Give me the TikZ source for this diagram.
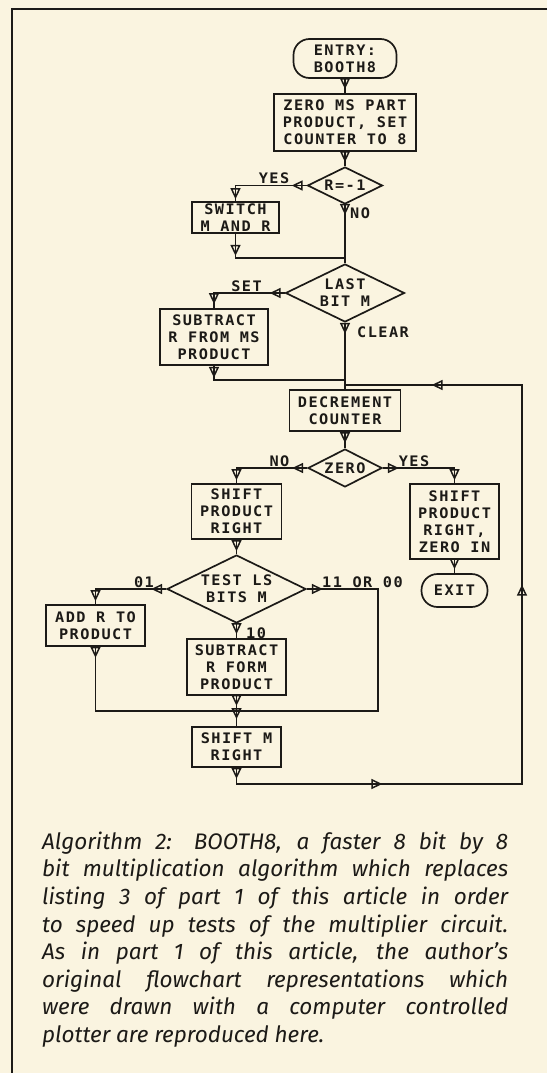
\documentclass[tikz,border=0pt]{standalone}
\usepackage{fontspec}
\usetikzlibrary{shapes.geometric,arrows.meta,decorations.markings}
\newfontfamily\plotfont[FakeStretch=1.05,LetterSpace=10]{DejaVu Sans Mono Bold}
\newfontfamily\capfont{Fira Sans}
\definecolor{paper}{HTML}{FAF4E0}
\definecolor{ink}{HTML}{1C1A17}

\tikzset{
  flowbox/.style={draw=ink,line width=1.7pt,rectangle,align=center,inner sep=0pt,
    font=\plotfont\fontsize{14.5}{17}\selectfont,text=ink},
  termbox/.style={flowbox,rounded corners=16pt},
  testbox/.style={flowbox,diamond,aspect=2},
  flowlabel/.style={font=\plotfont\fontsize{14.5}{17}\selectfont,text=ink,inner sep=0pt},
  wire/.style={draw=ink,line width=1.7pt},
  tipat/.style={postaction={decorate,decoration={markings,
    mark=at position #1 with {\arrow[line width=1.5pt]{Triangle[open,length=11pt,width=10pt]}}}}}
}

\begin{document}
\begin{tikzpicture}[x=1pt,y=-1pt]
\fill[paper] (0,0) rectangle (547,1073);
\useasboundingbox (0,0) rectangle (547,1073);
\draw[ink,line width=2.4pt] (547,9) -- (12,9) -- (12,1073);

\node[termbox,minimum width=103pt,minimum height=39pt] (entry) at (345,58.5) {ENTRY:\\BOOTH8};
\node[flowbox,minimum width=142pt,minimum height=57pt] (zeroms) at (345,122.5) {ZERO MS PART\\PRODUCT, SET\\COUNTER TO 8};
\node[testbox,minimum width=75pt,minimum height=37pt] (rtest) at (345,185.5) {R=-1};
\node[flowbox,minimum width=87pt,minimum height=31pt] (swap) at (235.5,217.5) {SWITCH\\M AND R};
\node[testbox,minimum width=119pt,minimum height=58pt] (lastbit) at (345,293) {LAST\\BIT M};
\node[flowbox,minimum width=108pt,minimum height=56pt] (subms) at (214,337) {SUBTRACT\\R FROM MS\\PRODUCT};
\node[flowbox,minimum width=111pt,minimum height=41pt] (decr) at (345,410.5) {DECREMENT\\COUNTER};
\node[testbox,minimum width=74pt,minimum height=38pt] (zerotest) at (345,468) {ZERO};
\node[flowbox,minimum width=90pt,minimum height=55pt] (shiftprod) at (236.5,511.5) {SHIFT\\PRODUCT\\RIGHT};
\node[flowbox,minimum width=89pt,minimum height=75pt] (shiftzero) at (454.5,521.5) {SHIFT\\PRODUCT\\RIGHT,\\ZERO IN};
\node[termbox,minimum width=66pt,minimum height=33pt] (exit) at (454.5,590.5) {EXIT};
\node[testbox,minimum width=139pt,minimum height=68pt] (lsbits) at (236.5,589) {TEST LS\\BITS M};
\node[flowbox,minimum width=99pt,minimum height=41pt] (addr) at (95.5,625.5) {ADD R TO\\PRODUCT};
\node[flowbox,minimum width=99pt,minimum height=56pt] (subform) at (236.5,667) {SUBTRACT\\R FORM\\PRODUCT};
\node[flowbox,minimum width=89pt,minimum height=40pt] (shiftm) at (236.5,747) {SHIFT M\\RIGHT};

\node[flowlabel] (yes1) at (274,178) {YES};
\node[flowlabel,anchor=west] (no1) at (350,213) {NO};
\node[flowlabel] (set) at (246.5,286) {SET};
\node[flowlabel,anchor=west] (clear) at (357,332) {CLEAR};
\node[flowlabel] (no2) at (279.5,461) {NO};
\node[flowlabel] (yes2) at (414,461) {YES};
\node[flowlabel] (lsb01) at (144,582) {01};
\node[flowlabel,anchor=west] (lsb11) at (322,582) {11 OR 00};
\node[flowlabel,anchor=west] (lsb10) at (246,633) {10};

\coordinate (joinswap) at (345,258);
\coordinate (joinsub) at (345,380);
\coordinate (loopin) at (345,385);
\coordinate (looptr) at (522,385);
\coordinate (loopbr) at (522,784);
\coordinate (lsright) at (378,711);
\coordinate (joinls) at (236.5,711);

\draw[wire,tipat=-4pt] (entry) -- (zeroms);
\draw[wire,tipat=-4pt] (zeroms) -- (rtest);
\draw[wire,tipat=15pt,tipat=-2pt] (rtest.west) -| (swap.north);
\draw[wire,tipat=10pt] (rtest.south) -- (lastbit.north);
\draw[wire,tipat=22pt] (swap.south) |- (joinswap);
\draw[wire,tipat=15pt,tipat=-4pt] (lastbit.west) -| (subms.north);
\draw[wire,tipat=11pt] (lastbit.south) -- (decr.north);
\draw[wire,tipat=12pt] (subms.south) |- (joinsub);
\draw[wire,tipat=11pt,tipat=162pt,tipat=501pt,tipat=791pt] (shiftm.south) |- (loopbr) -- (looptr) -- (loopin);
\draw[wire,tipat=-5pt] (decr) -- (zerotest);
\draw[wire,tipat=15pt,tipat=-3pt] (zerotest.west) -| (shiftprod.north);
\draw[wire,tipat=16pt,tipat=-3pt] (zerotest.east) -| (shiftzero.north);
\draw[wire,tipat=-4pt] (shiftzero) -- (exit);
\draw[wire,tipat=-3pt] (shiftprod) -- (lsbits);
\draw[wire,tipat=15pt,tipat=-3pt] (lsbits.west) -| (addr.north);
\draw[wire,tipat=16pt] (lsbits.east) -| (lsright) -- (joinls);
\draw[wire,tipat=-4pt] (lsbits) -- (subform);
\draw[wire,tipat=11pt] (addr.south) |- (joinls);
\draw[wire,tipat=10pt,tipat=-7pt] (subform) -- (shiftm);

\node[anchor=north west,inner sep=0pt,align=left,text=ink,
  font=\capfont\itshape\fontsize{22.5}{27.6}\selectfont] (caption) at (42,831.5) {%
\makebox[466pt][s]{Algorithm 2: BOOTH8, a faster 8 bit by 8}\\
\makebox[466pt][s]{bit multiplication algorithm which replaces}\\
\makebox[466pt][s]{listing 3 of part 1 of this article in order}\\
\makebox[466pt][s]{to speed up tests of the multiplier circuit.}\\
\makebox[466pt][s]{As in part 1 of this article, the author’s}\\
\makebox[466pt][s]{original flowchart representations which}\\
\makebox[466pt][s]{were drawn with a computer controlled}\\
plotter are reproduced here.};
\end{tikzpicture}
\end{document}
